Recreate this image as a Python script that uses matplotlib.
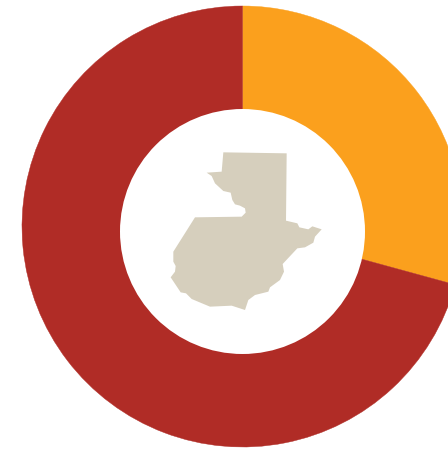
import matplotlib
matplotlib.use("Agg")
import matplotlib.pyplot as plt
from matplotlib.patches import Circle, Polygon

shares = [29.25, 70.75]
colors = ["#FBA01D", "#B02C26"]
map_color = "#D6CFBD"

outline_zoomed = [(190,37),(380,40),(378,242),(412,250),(418,262),(445,268),(457,259),(485,268),
    (465,290),(460,308),(435,322),(412,325),(368,372),(372,395),(360,420),(330,442),(325,455),
    (285,465),(265,480),(255,510),(215,497),(150,500),(95,477),(78,460),(62,457),(32,412),
    (45,395),(47,378),(40,365),(40,335),(105,232),(245,230),(257,218),(255,205),(240,197),
    (225,193),(217,180),(212,158),(190,153),(165,130),(155,108),(140,98),(185,95)]

W, H = 448, 450
fig = plt.figure(figsize=(W/100, H/100), dpi=100)
ax = fig.add_axes([0, 0, 1, 1])
wedges, _ = ax.pie(shares, colors=colors, startangle=90, counterclock=False,
       center=(242.5, H-226.5), radius=220.5)
for w, c in zip(wedges, colors):
    w.set_edgecolor(c)
    w.set_linewidth(0.3)
ax.add_patch(Circle((242.5, H-231.5), 122.5, fc="white", ec="none", zorder=3))
pts = [(160 + x/3, H - (140 + y/3)) for x, y in outline_zoomed]
ax.add_patch(Polygon(pts, closed=True, fc=map_color, ec="none", zorder=4))
ax.set_xlim(0, W)
ax.set_ylim(0, H)
ax.set_aspect("equal")
ax.axis("off")
fig.savefig("out.png", dpi=100, facecolor="white")
